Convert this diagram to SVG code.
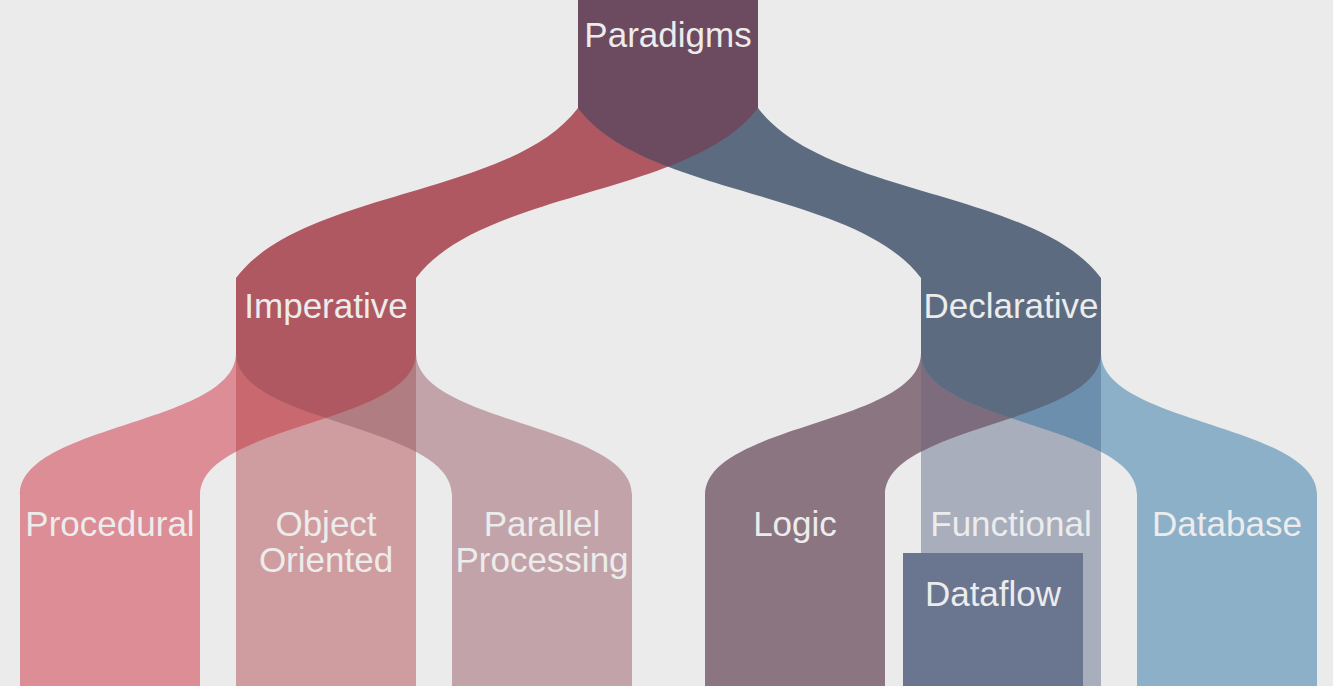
<svg xmlns="http://www.w3.org/2000/svg" xmlns:xlink="http://www.w3.org/1999/xlink" width="1333" height="686" viewBox="0 0 1333 686">
  <style>
    .label { font-family: "Liberation Sans", Arial, Helvetica, sans-serif; font-size: 35px; fill: #ececec; text-anchor: middle; }
  </style>
  <defs>
    <!-- level 1 ribbons: Paradigms -> Imperative / Declarative -->
    <path id="ribbon-imp" d="M578,107 L578,108 C512,196 302,190 236,278 L236,279 L416,279 L416,278 C482,190 692,196 758,108 L758,107 Z"/>
    <path id="ribbon-dec" d="M578,107 L578,108 C644,196 855,190 921,278 L921,279 L1101,279 L1101,278 C1035,190 824,196 758,108 L758,107 Z"/>
    <!-- level 2 ribbons: Imperative -> children -->
    <path id="ribbon-proc" d="M236,353 C236,424 20,424 20,495 L20,496 L200,496 L200,495 C200,424 416,424 416,353 Z"/>
    <path id="ribbon-par" d="M236,353 C236,424 452,424 452,495 L452,496 L632,496 L632,495 C632,424 416,424 416,353 Z"/>
    <rect id="stem-oo" x="236" y="353" width="180" height="143"/>
    <!-- level 2 ribbons: Declarative -> children -->
    <path id="ribbon-logic" d="M921,353 C921,424 705,424 705,495 L705,496 L885,496 L885,495 C885,424 1101,424 1101,353 Z"/>
    <path id="ribbon-db" d="M921,353 C921,424 1137,424 1137,495 L1137,496 L1317,496 L1317,495 C1317,424 1101,424 1101,353 Z"/>
    <rect id="stem-func" x="921" y="353" width="180" height="143"/>

    <clipPath id="clip-dec"><use xlink:href="#ribbon-dec"/></clipPath>
    <clipPath id="clip-oo"><use xlink:href="#stem-oo"/></clipPath>
    <clipPath id="clip-par"><use xlink:href="#ribbon-par"/></clipPath>
    <clipPath id="clip-func"><use xlink:href="#stem-func"/></clipPath>
    <clipPath id="clip-db"><use xlink:href="#ribbon-db"/></clipPath>
  </defs>

  <rect width="1333" height="686" fill="#ebebeb"/>

  <g id="connectors">
    <!-- Paradigms split -->
    <use xlink:href="#ribbon-imp" fill="#b05862"/>
    <use xlink:href="#ribbon-dec" fill="#5d6b80"/>
    <use xlink:href="#ribbon-imp" fill="#6c4a5f" clip-path="url(#clip-dec)"/>

    <!-- Imperative split -->
    <use xlink:href="#ribbon-proc" fill="#dc8d95"/>
    <use xlink:href="#ribbon-par" fill="#c2a3a9"/>
    <use xlink:href="#stem-oo" fill="#cf9c9f"/>
    <use xlink:href="#ribbon-proc" fill="#c9696f" clip-path="url(#clip-oo)"/>
    <use xlink:href="#ribbon-par" fill="#b07e82" clip-path="url(#clip-oo)"/>
    <use xlink:href="#ribbon-proc" fill="#b05862" clip-path="url(#clip-par)"/>

    <!-- Declarative split -->
    <use xlink:href="#ribbon-logic" fill="#8a7581"/>
    <use xlink:href="#ribbon-db" fill="#8db0c9"/>
    <use xlink:href="#stem-func" fill="#a8aebb"/>
    <use xlink:href="#ribbon-logic" fill="#7c6c7e" clip-path="url(#clip-func)"/>
    <use xlink:href="#ribbon-db" fill="#6b8fad" clip-path="url(#clip-func)"/>
    <use xlink:href="#ribbon-logic" fill="#5d6b80" clip-path="url(#clip-db)"/>
  </g>

  <g id="node-paradigms">
    <rect x="578" y="0" width="180" height="108" fill="#6c4a5f"/>
    <text class="label" x="668" y="47">Paradigms</text>
  </g>

  <g id="node-imperative">
    <rect x="236" y="278" width="180" height="76" fill="#b05862"/>
    <text class="label" x="326" y="318">Imperative</text>
  </g>

  <g id="node-declarative">
    <rect x="921" y="278" width="180" height="76" fill="#5d6b80"/>
    <text class="label" x="1011" y="318">Declarative</text>
  </g>

  <g id="node-procedural">
    <rect x="20" y="495" width="180" height="191" fill="#dc8d95"/>
    <text class="label" x="110" y="536">Procedural</text>
  </g>

  <g id="node-object-oriented">
    <rect x="236" y="495" width="180" height="191" fill="#cf9c9f"/>
    <text class="label" x="326" y="536">Object</text>
    <text class="label" x="326" y="572">Oriented</text>
  </g>

  <g id="node-parallel-processing">
    <rect x="452" y="495" width="180" height="191" fill="#c2a3a9"/>
    <text class="label" x="542" y="536">Parallel</text>
    <text class="label" x="542" y="572">Processing</text>
  </g>

  <g id="node-logic">
    <rect x="705" y="495" width="180" height="191" fill="#8a7581"/>
    <text class="label" x="795" y="536">Logic</text>
  </g>

  <g id="node-functional">
    <rect x="921" y="495" width="180" height="191" fill="#a8aebb"/>
    <text class="label" x="1011" y="536">Functional</text>
  </g>

  <g id="node-database">
    <rect x="1137" y="495" width="180" height="191" fill="#8db0c9"/>
    <text class="label" x="1227" y="536">Database</text>
  </g>

  <g id="node-dataflow">
    <rect x="903" y="553" width="180" height="133" fill="#6a7690"/>
    <text class="label" x="993" y="606">Dataflow</text>
  </g>
</svg>
